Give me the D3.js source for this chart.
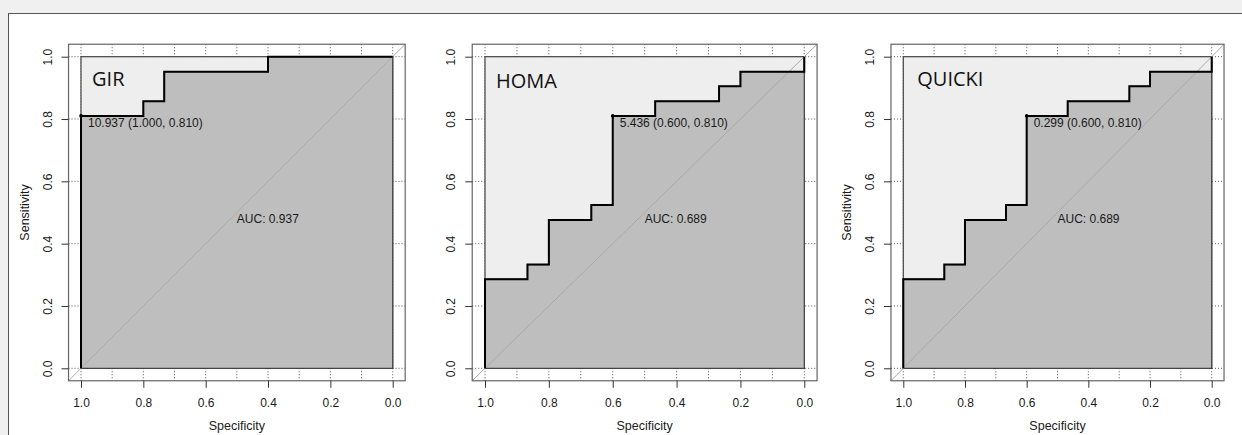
<!DOCTYPE html>
<html>
<head>
<meta charset="utf-8">
<script src="https://cdn.jsdelivr.net/npm/d3@7"></script>
<style>
  body { margin: 0; background: #f0f0f0; }
  svg { display: block; }
</style>
</head>
<body>
<div id="viz"></div>
<script>
// ROC curves (specificity, sensitivity)
var panelNames = ['GIR', 'HOMA', 'QUICKI'];

var girSpec = [1, 1, 0.8, 0.8, 0.733, 0.733, 0.4, 0.4, 0];
var girSens = [0, 0.81, 0.81, 0.857, 0.857, 0.952, 0.952, 1, 1];

var homaSpec = [1, 1, 0.867, 0.867, 0.8, 0.8, 0.667, 0.667, 0.6, 0.6, 0.467, 0.467, 0.267, 0.267, 0.2, 0.2, 0, 0];
var homaSens = [0, 0.286, 0.286, 0.333, 0.333, 0.476, 0.476, 0.524, 0.524, 0.81, 0.81, 0.857, 0.857, 0.905, 0.905, 0.952, 0.952, 1];

var quickiSpec = [1, 1, 0.867, 0.867, 0.8, 0.8, 0.667, 0.667, 0.6, 0.6, 0.467, 0.467, 0.267, 0.267, 0.2, 0.2, 0, 0];
var quickiSens = [0, 0.286, 0.286, 0.333, 0.333, 0.476, 0.476, 0.524, 0.524, 0.81, 0.81, 0.857, 0.857, 0.905, 0.905, 0.952, 0.952, 1];

var thresholds = ['10.937', '5.436', '0.299'];
var bestSpec = [1.0, 0.6, 0.6];
var bestSens = [0.81, 0.81, 0.81];
var aucs = [0.937, 0.689, 0.689];

var xTicks = [1.0, 0.8, 0.6, 0.4, 0.2, 0.0];
var yTicks = [0.0, 0.2, 0.4, 0.6, 0.8, 1.0];

var width = 1242;
var height = 435;

// pixel layout of each panel (the three plots are not scaled alike)
var layout = [
  { x0: 81, x1: 392.7, ytitle: true, lx: 11, ly: 86 },
  { x0: 485, x1: 804.3, ytitle: false, lx: 11, ly: 88 },
  { x0: 903.3, x1: 1211.7, ytitle: true, lx: 14, ly: 86 }
];
var yBottom = 368.3;
var yTop = 56.7;

var curves = [
  { spec: girSpec, sens: girSens },
  { spec: homaSpec, sens: homaSens },
  { spec: quickiSpec, sens: quickiSens }
];

var font = '"Liberation Sans", Arial, sans-serif';
var textCol = '#1a1a1a';

var svg = d3.select('#viz').append('svg')
  .attr('width', width)
  .attr('height', height);

svg.append('rect')
  .attr('x', 8.5).attr('y', 13.5)
  .attr('width', width).attr('height', height)
  .style('fill', '#fff')
  .style('stroke', '#555');

panelNames.forEach(function (name, i) {
  var L = layout[i];
  var x = d3.scaleLinear().domain([1, 0]).range([L.x0, L.x1]);
  var y = d3.scaleLinear().domain([0, 1]).range([yBottom, yTop]);

  var bx0 = x(1.04), bx1 = x(-0.04), by0 = y(-0.04), by1 = y(1.04);

  var g = svg.append('g');

  // grid (only shows in the margins, the polygons hide the rest)
  g.selectAll('.vgrid')
    .data(d3.range(0, 11).map(function (d) { return d / 10; }))
    .enter().append('line')
    .attr('x1', function (d) { return x(d); })
    .attr('x2', function (d) { return x(d); })
    .attr('y1', by1).attr('y2', by0)
    .style('stroke', '#555')
    .style('stroke-dasharray', '1,2');

  g.selectAll('.hgrid')
    .data(yTicks)
    .enter().append('line')
    .attr('y1', function (d) { return y(d); })
    .attr('y2', function (d) { return y(d); })
    .attr('x1', bx0).attr('x2', bx1)
    .style('stroke', '#555')
    .style('stroke-dasharray', '1,2');

  // max auc polygon
  g.append('rect')
    .attr('x', x(1)).attr('y', y(1))
    .attr('width', x(0) - x(1)).attr('height', y(0) - y(1))
    .style('fill', '#eeeeee')
    .style('stroke', '#444')
    .style('stroke-width', 1.2);

  var c = curves[i];
  var pts = c.spec.map(function (s, k) { return [s, c.sens[k]]; });

  var area = d3.area()
    .x(function (d) { return x(d[0]); })
    .y0(y(0))
    .y1(function (d) { return y(d[1]); });

  g.append('path')
    .datum(pts)
    .attr('d', area)
    .style('fill', '#bebebe')
    .style('stroke', '#444')
    .style('stroke-width', 1.2);

  // identity line
  g.append('line')
    .attr('x1', bx0).attr('y1', by0)
    .attr('x2', bx1).attr('y2', by1)
    .style('stroke', '#a9a9a9')
    .style('stroke-width', 1);

  // roc curve
  g.append('path')
    .datum(pts)
    .attr('d', d3.line()
      .x(function (d) { return x(d[0]); })
      .y(function (d) { return y(d[1]); }))
    .style('fill', 'none')
    .style('stroke', '#000')
    .style('stroke-width', 2);

  // box
  g.append('rect')
    .attr('x', bx0).attr('y', by1)
    .attr('width', bx1 - bx0).attr('height', by0 - by1)
    .style('fill', 'none')
    .style('stroke', '#666')
    .style('stroke-width', 1.2);

  // axes
  var yAxis = g.append('g')
    .attr('transform', 'translate(' + bx0 + ',0)')
    .call(d3.axisLeft(y).tickValues(yTicks).tickSize(7).tickFormat(d3.format('.1f')));
  yAxis.select('.domain').remove();
  yAxis.selectAll('line').style('stroke', '#333');
  yAxis.selectAll('text')
    .attr('x', null).attr('dy', null)
    .attr('transform', 'translate(-21,0) rotate(-90)')
    .attr('dy', '0.35em')
    .attr('text-anchor', 'middle')
    .style('font-family', font)
    .style('font-size', '12px')
    .style('fill', textCol);

  var xAxis = g.append('g')
    .attr('transform', 'translate(0,' + by0 + ')')
    .call(d3.axisBottom(x).tickValues(xTicks).tickSize(7).tickPadding(11).tickFormat(d3.format('.1f')));
  xAxis.select('.domain').remove();
  xAxis.selectAll('line').style('stroke', '#333');
  xAxis.selectAll('text')
    .style('font-family', font)
    .style('font-size', '12px')
    .style('fill', textCol);

  g.append('text')
    .attr('x', (x(1) + x(0)) / 2)
    .attr('y', 430)
    .attr('text-anchor', 'middle')
    .style('font-family', font)
    .style('font-size', '12.5px')
    .style('fill', textCol)
    .text('Specificity');

  if (L.ytitle) {
    g.append('text')
      .attr('transform', 'translate(' + (bx0 - 40) + ',' + ((y(0) + y(1)) / 2) + ') rotate(-90)')
      .attr('text-anchor', 'middle')
      .style('font-family', font)
      .style('font-size', '12.5px')
      .style('fill', textCol)
      .text('Sensitivity');
  }

  // best threshold
  g.append('circle')
    .attr('cx', x(bestSpec[i])).attr('cy', y(bestSens[i]))
    .attr('r', 1.8)
    .style('fill', '#000');

  g.append('text')
    .attr('x', x(bestSpec[i]) + 7)
    .attr('y', y(bestSens[i]) + 11)
    .style('font-family', font)
    .style('font-size', '12px')
    .style('fill', textCol)
    .text(thresholds[i] + ' (' + bestSpec[i].toFixed(3) + ', ' + bestSens[i].toFixed(3) + ')');

  g.append('text')
    .attr('x', x(0.5))
    .attr('y', y(0.5) + 10)
    .style('font-family', font)
    .style('font-size', '12px')
    .style('fill', textCol)
    .text('AUC: ' + aucs[i].toFixed(3));

  // panel label
  g.append('text')
    .attr('x', L.x0 + L.lx)
    .attr('y', L.ly)
    .style('font-family', '"Open Sans", sans-serif')
    .style('font-size', '20px')
    .style('fill', '#111')
    .text(name);
});
</script>
</body>
</html>
